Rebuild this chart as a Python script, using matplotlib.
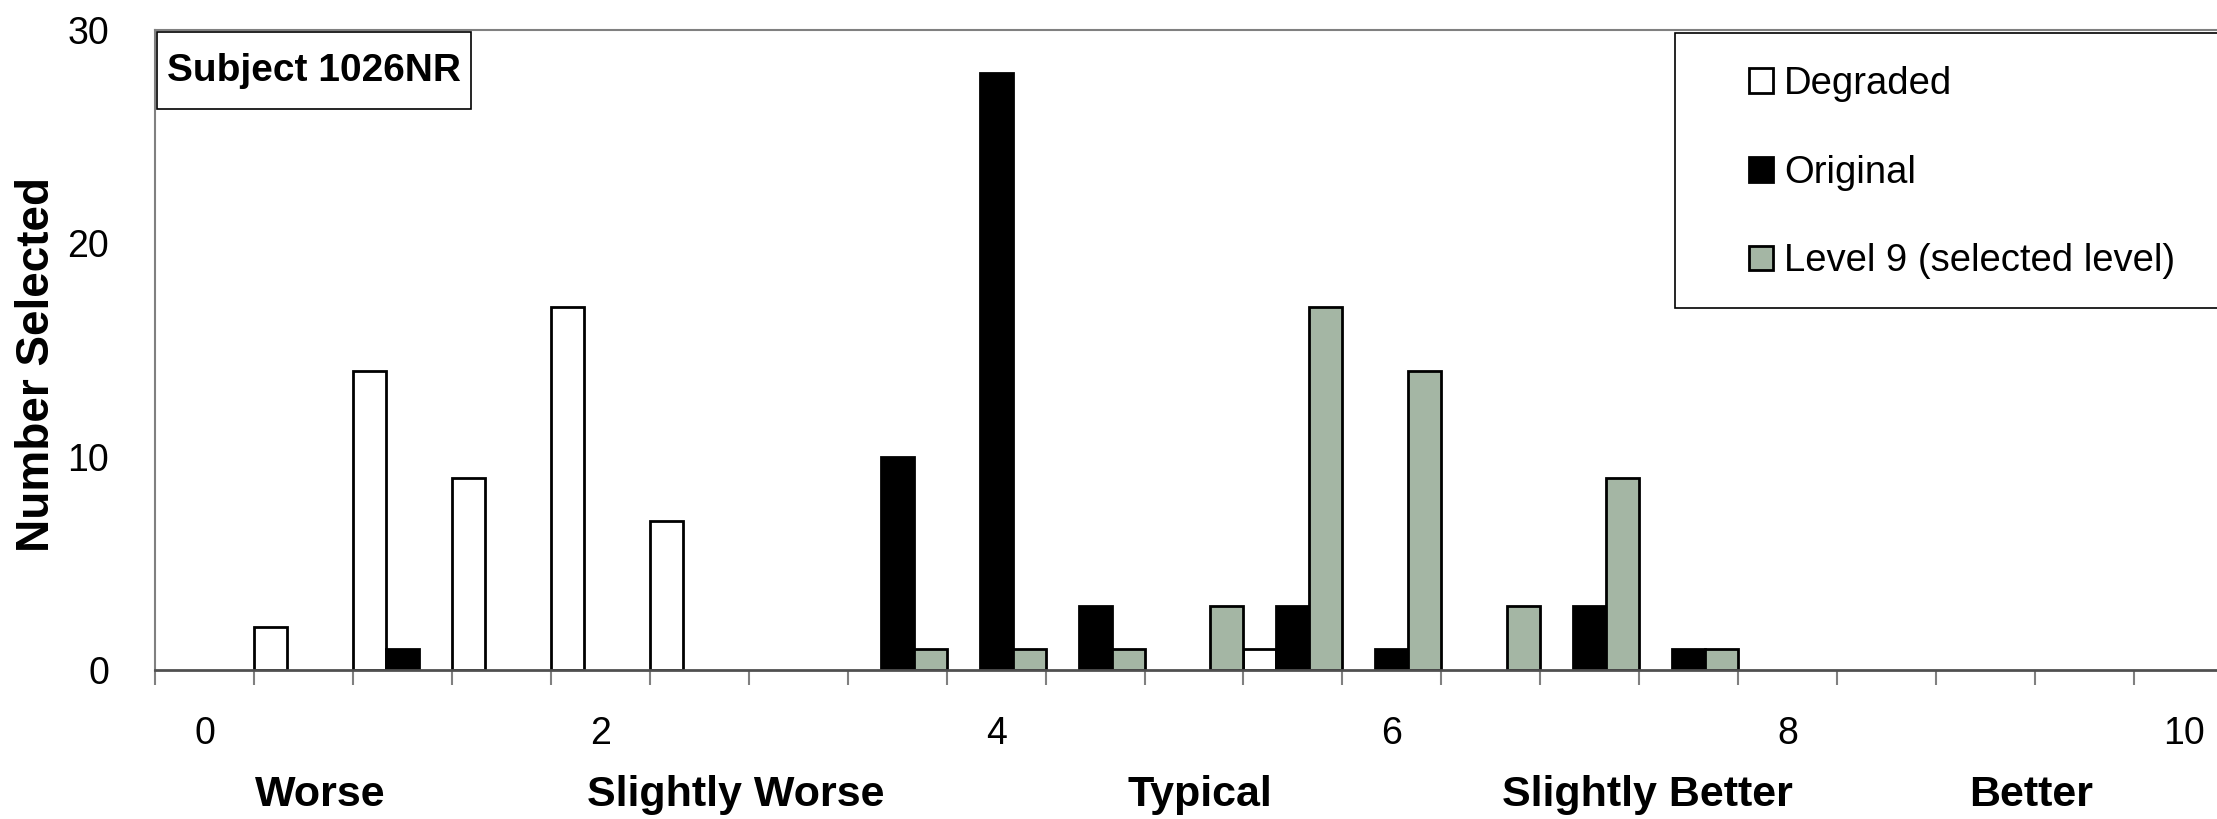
import numpy as np
import matplotlib
matplotlib.use("Agg")
import matplotlib.pyplot as plt
from matplotlib.patches import Rectangle

plt.rcParams['font.family'] = ['Liberation Sans', 'DejaVu Sans']

# ---------------- data ----------------
categories = ["0", "0.5", "1", "1.5", "2", "2.5", "3", "3.5", "4", "4.5", "5",
              "5.5", "6", "6.5", "7", "7.5", "8", "8.5", "9", "9.5", "10"]
degraded = [0, 2, 14, 9, 17, 7, 0, 0, 0, 0, 0, 1, 0, 0, 0, 0, 0, 0, 0, 0, 0]
original = [0, 0, 1, 0, 0, 0, 0, 10, 28, 3, 0, 3, 1, 0, 3, 1, 0, 0, 0, 0, 0]
level9 = [0, 0, 0, 0, 0, 0, 0, 1, 1, 1, 3, 17, 14, 3, 9, 1, 0, 0, 0, 0, 0]
series_names = ["Degraded", "Original", "Level 9 (selected level)"]
shown_labels = ["0", "2", "4", "6", "8", "10"]
rating_words = ["Worse", "Slightly Worse", "Typical", "Slightly Better", "Better"]
subject_label = "Subject 1026NR"
y_ticks = [0, 10, 20, 30]

# ---------------- figure ----------------
W, H = 2217, 819
fig = plt.figure(figsize=(W / 100, H / 100), dpi=100)

def fx(px):
    return px / W

def fy(py):
    return 1 - py / H

ax_left, ax_right, ax_top, ax_bottom = 155, 2233, 30, 670
ax = fig.add_axes([fx(ax_left), fy(ax_bottom), fx(ax_right - ax_left),
                   (ax_bottom - ax_top) / H])

green = '#a4b6a4'
n = len(categories)
idx = np.arange(n)
w = 1 / 3
styles = [dict(color='white', edgecolor='black'),
          dict(color='black', edgecolor='black'),
          dict(color=green, edgecolor='black')]
handles = []
for k, (vals, st) in enumerate(zip([degraded, original, level9], styles)):
    vals = np.asarray(vals)
    m = vals > 0
    b = ax.bar(idx[m] + w * (k + 0.5), vals[m], width=w, linewidth=2.0,
               zorder=3, **st)
    handles.append(b)

ax.set_xlim(0, n)
ax.set_ylim(0, 30)

# x ticks: boundaries as major ticks, labels at category centers as minor
ax.set_xticks(np.arange(0, n + 1))
ax.set_xticklabels([])
lab_pos = [categories.index(s) + 0.5 for s in shown_labels]
ax.set_xticks(lab_pos, minor=True)
ax.set_xticklabels(shown_labels, minor=True, fontsize=27)
ax.tick_params(axis='x', which='major', length=11, width=1.5, color='#808080',
               direction='out')
ax.tick_params(axis='x', which='minor', length=0, pad=33)

ax.set_yticks(y_ticks)
ax.set_yticklabels([str(v) for v in y_ticks], fontsize=27)
ax.tick_params(axis='y', length=0, pad=33)

for s in ['top', 'left']:
    ax.spines[s].set_color('#808080')
    ax.spines[s].set_linewidth(1.5)
ax.spines['right'].set_visible(False)
ax.spines['bottom'].set_color('#505050')
ax.spines['bottom'].set_linewidth(2.0)
ax.spines['bottom'].set_zorder(4)

# y label
fig.text(fx(37), fy(364), "Number Selected", rotation=90, ha='center',
         va='center', fontsize=33, fontweight='bold')

# rating words under axis
word_x = [320, 736, 1200, 1647, 2031]
for wx, word in zip(word_x, rating_words):
    fig.text(fx(wx), fy(806), word, ha='center', va='baseline', fontsize=31,
             fontweight='bold')

# subject box
fig.add_artist(Rectangle((fx(157), fy(109)), fx(471 - 157), (109 - 32) / H,
                         transform=fig.transFigure, facecolor='white',
                         edgecolor='black', linewidth=1.2, zorder=5))
fig.text(fx(314), fy(71), subject_label, ha='center', va='center',
         fontsize=28, fontweight='bold', zorder=6)

# legend box
fig.add_artist(Rectangle((fx(1675), fy(308)), fx(2300 - 1675), (308 - 33) / H,
                         transform=fig.transFigure, facecolor='white',
                         edgecolor='black', linewidth=1.2, zorder=5))
leg = fig.legend(handles, series_names, loc='upper left',
                 bbox_to_anchor=(fx(1749), fy(66)), frameon=False,
                 fontsize=27.5, handlelength=0.62, handleheight=0.62,
                 handletextpad=0.3, labelspacing=1.38, borderpad=0,
                 borderaxespad=0)
leg.set_zorder(6)

fig.savefig("out.png", dpi=100)
